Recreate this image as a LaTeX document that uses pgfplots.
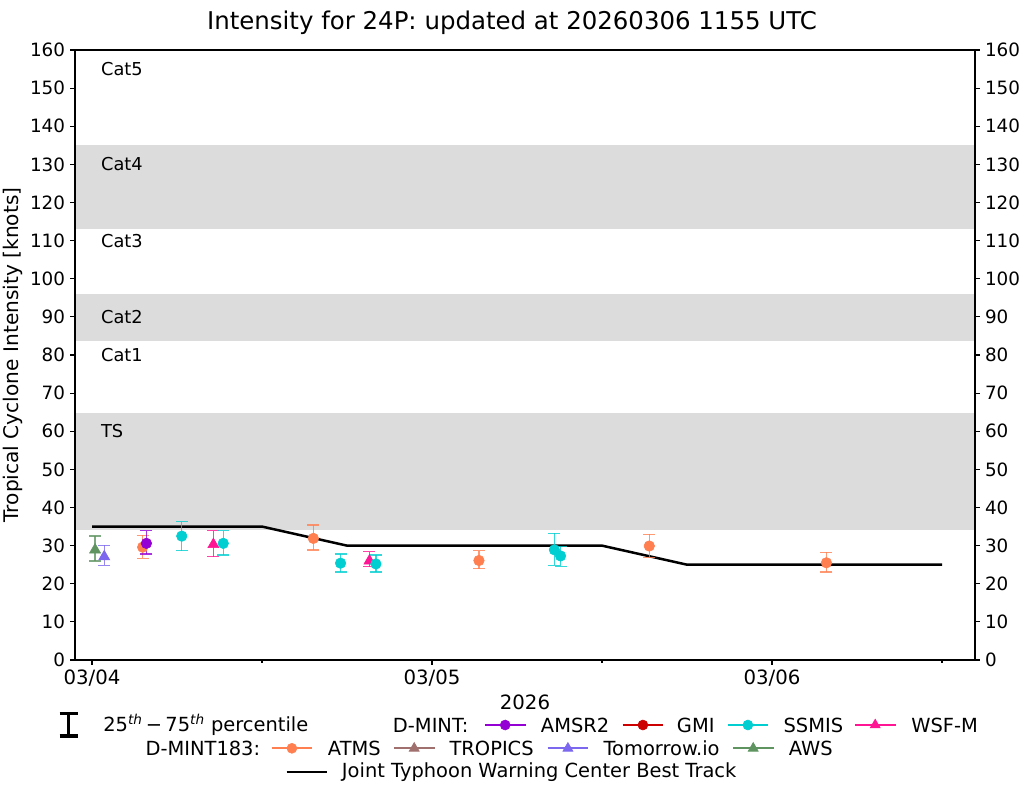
\documentclass[border=0pt]{standalone}
\usepackage{fontspec}
\setmainfont{DejaVu Sans}
\usepackage{pgfplots}
\usepackage{pgfplotstable}
\pgfplotsset{compat=1.18}

\definecolor{band}{HTML}{DCDCDC}
\definecolor{atms}{HTML}{FF7F50}
\definecolor{ssmis}{HTML}{00CED1}
\definecolor{amsr}{HTML}{9400D3}
\definecolor{gmi}{HTML}{CC0000}
\definecolor{wsfm}{HTML}{FF1493}
\definecolor{tropics}{HTML}{A0706F}
\definecolor{tmrw}{HTML}{7B68EE}
\definecolor{aws}{HTML}{5F9460}

% x = days after 03/04 00 UTC, y = knots, ep/em = 75th/25th offsets
\pgfplotstableread{
x y ep em
0.149 29.6 3.1 2.9
0.651 31.9 3.5 3.0
1.138 26.1 2.6 2.1
1.639 29.9 3.1 3.0
2.160 25.5 2.7 2.4
}\atms
\pgfplotstableread{
x y ep em
0.264 32.5 3.8 3.8
0.386 30.6 3.3 3.1
0.731 25.4 2.4 2.3
0.835 25.2 2.3 2.1
1.360 28.9 4.3 4.1
1.378 27.3 2.4 2.7
}\ssmis
\pgfplotstableread{
x y ep em
0.160 30.6 3.3 2.8
}\amsr
\pgfplotstableread{
x y ep em
0.357 30.3 3.6 3.2
0.816 26.0 2.4 1.5
}\wsfm
\pgfplotstableread{
x y ep em
0.036 27.1 3.0 2.3
}\tmrw
\pgfplotstableread{
x y ep em
0.009 28.9 3.6 2.9
}\aws
\pgfplotstableread{
x y
0.00 35
0.25 35
0.50 35
0.75 30
1.00 30
1.25 30
1.50 30
1.75 25
2.00 25
2.25 25
2.50 25
}\besttrack

\pgfplotsset{
  common/.style={
    at={(54pt,-475.2pt)}, anchor=south west, scale only axis,
    width=648pt, height=439.2pt,
    xmin=-0.05, xmax=2.597, ymin=0, ymax=160,
    ytick={0,10,...,160},
    tick align=outside,
    major tick length=3.5pt, minor tick length=2pt,
    tick style={black, line width=0.8pt},
    yticklabel style={font=\fontsize{13.2}{15}\selectfont},
    xticklabel style={font=\fontsize{14.2}{16}\selectfont},
    /pgf/number format/assume math mode=true,
  },
  obs/.style={only marks, mark size=3.8pt,
    error bars/y dir=both, error bars/y explicit,
    error bars/error bar style={line width=1pt, opacity=0.8},
    error bars/error mark options={line width=1pt, mark size=4.3pt, opacity=0.8, rotate=90}},
  tri/.style={mark=triangle*, mark size=4.6pt},
}

\begin{document}
\begin{tikzpicture}
\begin{scope}[x=0.72pt,y=-0.72pt]
\useasboundingbox (0,0) rectangle (1025,785);
\end{scope}

\begin{axis}[common,
  axis on top,
  axis line style={line width=0.8pt},
  xtick={0,1,2}, xticklabels={03/04,03/05,03/06},
  minor xtick={0.5,1.5,2.5},
  xtick pos=bottom, ytick pos=left,
  yticklabel style={inner sep=0pt, xshift=-3.5pt},
  xticklabel style={inner sep=0pt, yshift=-3.5pt},
  xlabel={2026}, xlabel style={font=\fontsize{14.2}{16}\selectfont, inner sep=0pt, yshift=-6pt},
  ylabel={Tropical Cyclone Intensity [knots]},
  ylabel style={font=\fontsize{14.5}{16}\selectfont, inner sep=0pt, yshift=5pt},
  clip=true,
]
\addplot[draw=none, fill=band] coordinates {(-0.1,34) (2.7,34) (2.7,64.8) (-0.1,64.8)} -- cycle;
\addplot[draw=none, fill=band] coordinates {(-0.1,83.7) (2.7,83.7) (2.7,96) (-0.1,96)} -- cycle;
\addplot[draw=none, fill=band] coordinates {(-0.1,113) (2.7,113) (2.7,135) (-0.1,135)} -- cycle;

\begin{scope}[font=\fontsize{12.8}{15}\selectfont]
\node[anchor=west, inner sep=0pt] at (axis cs:0.026,155) {Cat5};
\node[anchor=west, inner sep=0pt] at (axis cs:0.026,130) {Cat4};
\node[anchor=west, inner sep=0pt] at (axis cs:0.026,110) {Cat3};
\node[anchor=west, inner sep=0pt] at (axis cs:0.026,90) {Cat2};
\node[anchor=west, inner sep=0pt] at (axis cs:0.026,80) {Cat1};
\node[anchor=west, inner sep=0pt] at (axis cs:0.026,60) {TS};
\end{scope}

\addplot[black, line width=1.8pt, mark=none] table[x=x,y=y] {\besttrack};

\addplot[obs, aws, tri] table[x=x,y=y,y error plus=ep,y error minus=em] {\aws};
\addplot[obs, tmrw, tri] table[x=x,y=y,y error plus=ep,y error minus=em] {\tmrw};
\addplot[obs, atms, mark=*] table[x=x,y=y,y error plus=ep,y error minus=em] {\atms};
\addplot[obs, amsr, mark=*] table[x=x,y=y,y error plus=ep,y error minus=em] {\amsr};
\addplot[obs, wsfm, tri] table[x=x,y=y,y error plus=ep,y error minus=em] {\wsfm};
\addplot[obs, ssmis, mark=*] table[x=x,y=y,y error plus=ep,y error minus=em] {\ssmis};
\end{axis}

\begin{axis}[common,
  axis line style={draw=none},
  xtick=\empty,
  ytick pos=right, yticklabel pos=right,
  yticklabel style={inner sep=0pt, xshift=3.5pt},
]
\end{axis}

\begin{scope}[x=0.72pt,y=-0.72pt, font=\fontsize{14}{16}\selectfont]
\node[font=\fontsize{17.6}{20}\selectfont] at (512,23) {Intensity for 24P: updated at 20260306 1155 UTC};
% legend row 1
\draw[line width=2.4pt] (68.5,713.5) -- (68.5,736);
\draw[line width=2.4pt] (59.5,713.5) -- (77.5,713.5);
\draw[line width=2.4pt] (59.5,736) -- (77.5,736);
\node[anchor=west, inner sep=0pt] at (103,725) {25\textsuperscript{\itshape th}\,−\,75\textsuperscript{\itshape th} percentile};
\node[anchor=west, inner sep=0pt] at (392.7,725) {D-MINT:};
\foreach \xa/\xt/\col/\lab/\mk/\ms in {485/540.7/amsr/AMSR2/*/3.6pt, 622.7/676.7/gmi/GMI/*/3.6pt, 727.7/783.3/ssmis/SSMIS/*/3.6pt, 855/911/wsfm/WSF-M/triangle*/4.2pt}{
  \draw[\col, line width=1.5pt] (\xa,725) -- (\xa+40.5,725);
  \path plot[mark=\mk, mark size=\ms, mark options={\col}] coordinates {(\xa+20.2,725)};
  \node[anchor=west, inner sep=0pt] at (\xt,725) {\lab};
}
% legend row 2
\node[anchor=west, inner sep=0pt] at (145.3,748.3) {D-MINT183:};
\foreach \xa/\xt/\col/\lab/\mk/\ms in {271.7/327.7/atms/ATMS/*/3.6pt, 394/449.3/tropics/TROPICS/triangle*/4.2pt, 547.7/603.3/tmrw/Tomorrow.io/triangle*/4.2pt, 733/788.7/aws/AWS/triangle*/4.2pt}{
  \draw[\col, line width=1.5pt] (\xa,748.3) -- (\xa+40.5,748.3);
  \path plot[mark=\mk, mark size=\ms, mark options={\col}] coordinates {(\xa+20.2,748.3)};
  \node[anchor=west, inner sep=0pt] at (\xt,748.3) {\lab};
}
% legend row 3
\draw[black, line width=1.5pt] (286.7,771.7) -- (327.3,771.7);
\node[anchor=west, inner sep=0pt] at (341.7,771.7) {Joint Typhoon Warning Center Best Track};
\end{scope}
\end{tikzpicture}
\end{document}
